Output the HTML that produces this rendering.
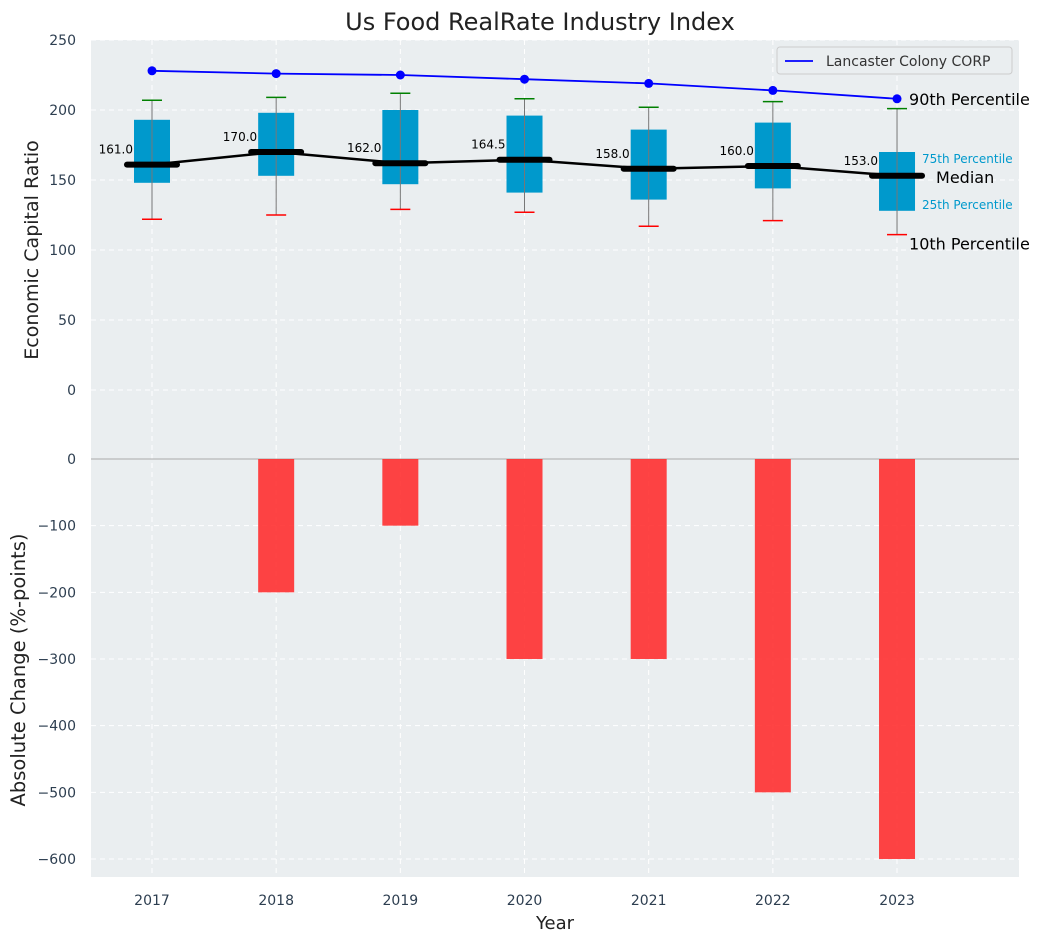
<!DOCTYPE html>
<html><head><meta charset="utf-8"><style>
body{margin:0;background:#fff;}
svg{display:block;font-family:"DejaVu Sans","Liberation Sans",sans-serif;}
</style></head><body>
<svg id="c" width="1044" height="942"></svg>
<script>
const years=[2017,2018,2019,2020,2021,2022,2023];
const p10=[122,125,129,127,117,121,111];
const p25=[148,153,147,141,136,144,128];
const medians=[161,170,162,164.5,158,160,153];
const p75=[193,198,200,196,186,191,170];
const p90w=[207,209,212,208,202,206,201];
const company=[228,226,225,222,219,214,208];
const changes=[0,-200,-100,-300,-300,-500,-600];
const topTicks=[0,50,100,150,200,250];
const botTicks=[0,-100,-200,-300,-400,-500,-600];

const NS="http://www.w3.org/2000/svg";
const svg=document.getElementById('c');
function el(t,a,p){const e=document.createElementNS(NS,t);for(const k in a)e.setAttribute(k,a[k]);(p||svg).appendChild(e);return e;}
const X0=91,X1=1019;
const x=i=>152+i*124.17;
const yT=v=>390-v*1.4;
const yB=v=>459-v*0.6667;

let e;
e=el('rect',{x:X0,y:40,width:X1-X0,height:419,fill:'#eaeef0'});

e=el('rect',{x:X0,y:459,width:X1-X0,height:418,fill:'#eaeef0'});

years.forEach((yr,i)=>{
 el('line',{x1:x(i),x2:x(i),y1:40,y2:877,stroke:'#fff','stroke-dasharray':'5,4','stroke-width':1});
 e=el('text',{x:x(i),y:905,'text-anchor':'middle','font-size':14,fill:'#2d3e50'});e.textContent=yr;
 
});
topTicks.forEach(v=>{
 el('line',{x1:X0,x2:X1,y1:yT(v),y2:yT(v),stroke:'#fff','stroke-dasharray':'5,4'});
 e=el('text',{x:76,y:yT(v)+5,'text-anchor':'end','font-size':14,fill:'#2d3e50'});e.textContent=v;
 
});
botTicks.forEach(v=>{
 el('line',{x1:X0,x2:X1,y1:yB(v),y2:yB(v),stroke:'#fff','stroke-dasharray':'5,4'});
 e=el('text',{x:76,y:yB(v)+5,'text-anchor':'end','font-size':14,fill:'#2d3e50'});e.textContent=String(v).replace('-','\u2212');
 
});
el('line',{x1:X0,x2:X1,y1:459,y2:459,stroke:'#aaa','stroke-width':1});
changes.forEach((v,i)=>{
 if(v===0)return;
 e=el('rect',{x:x(i)-18,y:yB(0),width:36,height:yB(v)-yB(0),fill:'#ff2a2a','fill-opacity':0.88});
 
});
years.forEach((yr,i)=>{
 e=el('rect',{x:x(i)-18,y:yT(p75[i]),width:36,height:yT(p25[i])-yT(p75[i]),fill:'#0099cc'});
 
 el('line',{x1:x(i),x2:x(i),y1:yT(p90w[i]),y2:yT(p10[i]),stroke:'#777','stroke-width':1});
 el('line',{x1:x(i)-10,x2:x(i)+10,y1:yT(p90w[i]),y2:yT(p90w[i]),stroke:'green','stroke-width':1.5});
 el('line',{x1:x(i)-10,x2:x(i)+10,y1:yT(p10[i]),y2:yT(p10[i]),stroke:'red','stroke-width':1.5});
});
e=el('polyline',{points:medians.map((m,i)=>x(i)+','+yT(m)).join(' '),fill:'none',stroke:'#000','stroke-width':2.5});

medians.forEach((m,i)=>{
 el('line',{x1:x(i)-25,x2:x(i)+25,y1:yT(m),y2:yT(m),stroke:'#000','stroke-width':6,'stroke-linecap':'round'});
 e=el('text',{x:x(i)-19,y:yT(m)-11,'text-anchor':'end','font-size':12,fill:'#000'});e.textContent=m.toFixed(1);
 
});
e=el('polyline',{points:company.map((c,i)=>x(i)+','+yT(c)).join(' '),fill:'none',stroke:'#0000ff','stroke-width':1.8});

company.forEach((c,i)=>{e=el('circle',{cx:x(i),cy:yT(c),r:4.5,fill:'#0000ff'});
 });
const L=6;
function ann(t,xx,yy,fs,col,name,anchor){e=el('text',{x:xx,y:yy,'font-size':fs,fill:col,'text-anchor':anchor||'start'});e.textContent=t;}
ann('90th Percentile',x(L)+12,yT(company[L])+6,16,'#000','p90-annotation');
ann('75th Percentile',x(L)+25,yT(p75[L])+11,12,'#0099cc','p75-annotation');
ann('Median',x(L)+39,yT(medians[L])+7,16,'#000','median-annotation');
ann('25th Percentile',x(L)+25,yT(p25[L])-2,12,'#0099cc','p25-annotation');
ann('10th Percentile',x(L)+12,yT(p10[L])+15,16,'#000','p10-annotation');
const lg=el('g',{});
el('rect',{x:777,y:47,width:235,height:27,rx:3,fill:'#eaeef0',stroke:'#ccc'},lg);
el('line',{x1:785,x2:813,y1:61,y2:61,stroke:'#0000ff','stroke-width':1.8},lg);
e=el('text',{x:826,y:66,'font-size':14,fill:'#333'},lg);e.textContent='Lancaster Colony CORP';
ann('Us Food RealRate Industry Index',540,30,24,'#222','chart-title','middle');
e=el('text',{x:555,y:929,'text-anchor':'middle','font-size':18,fill:'#222'});e.textContent='Year';
e=el('text',{x:38,y:250,'text-anchor':'middle','font-size':19,fill:'#222',transform:'rotate(-90 38 250)'});e.textContent='Economic Capital Ratio';
e=el('text',{x:25,y:670,'text-anchor':'middle','font-size':19.5,fill:'#222',transform:'rotate(-90 25 670)'});e.textContent='Absolute Change (%-points)';
</script>
</body></html>
